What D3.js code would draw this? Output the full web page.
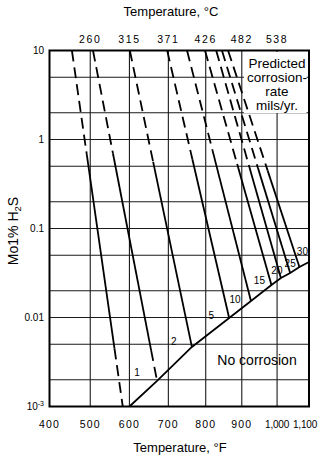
<!DOCTYPE html>
<html>
<head>
<meta charset="utf-8">
<script src="https://cdn.jsdelivr.net/npm/d3@7/dist/d3.min.js"></script>
<style>
  html, body { margin: 0; padding: 0; background: #fff; }
  svg { display: block; font-family: "Liberation Sans", Arial, Helvetica, sans-serif; }
</style>
</head>
<body>
<svg id="chart" width="320" height="459"></svg>
<script>
// Temperature axis (°F along the bottom, °C equivalents along the top)
const tempTicksF = [400, 500, 600, 700, 800, 900, 1000, 1100];
const tempTickLabelsF = ["400", "500", "600", "700", "800", "900", "1,000", "1,100"];
const tempTicksTopF = [500, 600, 700, 800, 900, 1000];
const tempTickLabelsC = ["260", "315", "371", "426", "482", "538"];
const gridTempF = [500, 600, 700, 800, 900, 1000];

// H2S concentration axis (log)
const h2sTicks = [10, 1, 0.1, 0.01, 0.001];
const h2sTickLabels = ["10", "1", "0.1", "0.01", "10-3"];
const gridH2S = [5, 2, 1, 0.5, 0.2, 0.1, 0.05, 0.02, 0.01, 0.005, 0.002];

// Iso-corrosion-rate lines (mils/yr)
const rateLabels = ["", "1", "2", "5", "10", "15", "20", "25", "30"];
const rateTopTempF = [455, 507, 601, 697, 750, 798, 829, 845, 862];   // where each line meets 10 mol%
const rateEndTempF = [583, 671, 763, 865, 926, 984, 1012, 1041, 1070];
const rateEndH2S = [0.001, 0.00194, 0.00467, 0.00986, 0.0153, 0.0232, 0.0278, 0.0316, 0.0369];
const rateSolidFromH2S = [0.67, 0.70, 0.56, 0.60, 0.76, 0.53, 0.49, 0.48, 0.45];
const rateSolidToH2S = [0.0045, 0.0043, null, null, null, null, null, null, null];

// No-corrosion boundary
const boundaryTempF = [600, 671, 763, 865, 926, 984, 1012, 1041, 1070, 1100];
const boundaryH2S = [0.001, 0.00194, 0.00467, 0.00986, 0.0153, 0.0232, 0.0278, 0.0316, 0.0369, 0.042];

const legendLines = ["Predicted", "corrosion-", "rate", "mils/yr."];

// ---- layout ----
const plot = { left: 49.5, right: 309, top: 50.5, bottom: 406.5 };
const W = plot.right - plot.left;
// the temperature axis is slightly compressed toward the hot end
const xStops = [0, 0.157, 0.308, 0.458, 0.602, 0.741, 0.877, 1];
const x = d3.scaleLinear().domain(tempTicksF).range(xStops.map(f => plot.left + f * W));
const y = d3.scaleLog().domain([0.001, 10]).range([plot.bottom, plot.top]);

const svg = d3.select("#chart");

// grid
const grid = svg.append("g").attr("stroke", "#1a1a1a").attr("stroke-width", 1.1);
grid.selectAll("line.v").data(gridTempF).join("line")
  .attr("x1", d => x(d)).attr("x2", d => x(d))
  .attr("y1", plot.top).attr("y2", plot.bottom);
grid.selectAll("line.h").data(gridH2S).join("line")
  .attr("x1", plot.left).attr("x2", plot.right)
  .attr("y1", d => y(d)).attr("y2", d => y(d));

// bottom axis labels (°F); the comma labels are set tighter and kept inside the page
svg.append("g").selectAll("text").data(tempTicksF).join("text")
  .attr("x", d => x(d)).attr("y", 428)
  .attr("text-anchor", "middle")
  .attr("font-size", (d, i) => tempTickLabelsF[i].includes(",") ? 10 : 10.5)
  .attr("letter-spacing", (d, i) => tempTickLabelsF[i].includes(",") ? -0.2 : 1.2)
  .text((d, i) => tempTickLabelsF[i])
  .each(function(d) {
    const half = this.getComputedTextLength() / 2;
    const maxX = 320 - 3 - half;
    if (x(d) > maxX) d3.select(this).attr("x", maxX);
  });

// top axis labels (°C)
svg.append("g").selectAll("text").data(tempTicksTopF).join("text")
  .attr("x", d => x(d)).attr("y", 43)
  .attr("text-anchor", "middle").attr("font-size", 10.5).attr("letter-spacing", 1.6)
  .text((d, i) => tempTickLabelsC[i]);

// left axis labels
const yl = svg.append("g").selectAll("text").data(h2sTicks).join("text")
  .attr("x", 44).attr("y", d => y(d) + 3.5)
  .attr("text-anchor", "end").attr("font-size", 10);
yl.each(function(d, i) {
  const t = d3.select(this);
  const lab = h2sTickLabels[i];
  if (lab === "10-3") {
    t.append("tspan").text("10");
    t.append("tspan").attr("font-size", 7).attr("dy", -4).text("-3");
  } else {
    t.text(lab);
  }
});

// axis titles
svg.append("text").attr("x", 171).attr("y", 16).attr("text-anchor", "middle")
  .attr("font-size", 13).text("Temperature, °C");
svg.append("text").attr("x", 180).attr("y", 452).attr("text-anchor", "middle")
  .attr("font-size", 13).text("Temperature, °F");
const yt = svg.append("text").attr("transform", "translate(18,231) rotate(-90)")
  .attr("text-anchor", "middle").attr("font-size", 14);
yt.append("tspan").text("Mo1% H");
yt.append("tspan").attr("font-size", 9.5).attr("dy", 3).text("2");
yt.append("tspan").attr("dy", -3).text("S");

// legend panel (covers the grid underneath)
svg.append("rect").attr("x", 244).attr("y", 52).attr("width", 62.5).attr("height", 61)
  .attr("fill", "#fff");
svg.append("g").selectAll("text").data(legendLines).join("text")
  .attr("x", 277).attr("y", (d, i) => 67.5 + i * 14.3)
  .attr("text-anchor", "middle").attr("font-size", 13.5).text(d => d);

// iso-rate lines: dashed where extrapolated, solid where supported
const lineGen = d3.line();
const rates = rateLabels.map((lab, i) => {
  const p0 = [x(rateTopTempF[i]), y(10)];
  const p1 = [x(rateEndTempF[i]), y(rateEndH2S[i])];
  const at = v => {
    const t = (y(v) - p0[1]) / (p1[1] - p0[1]);
    return [p0[0] + t * (p1[0] - p0[0]), y(v)];
  };
  const s0 = at(rateSolidFromH2S[i]);
  const s1 = rateSolidToH2S[i] == null ? p1 : at(rateSolidToH2S[i]);
  return { lab, p0, p1, s0, s1, hasLowDash: rateSolidToH2S[i] != null };
});
const rg = svg.append("g").attr("fill", "none").attr("stroke", "#000").attr("stroke-width", 1.8);
rates.forEach(r => {
  rg.append("path").attr("d", lineGen([r.p0, r.s0])).attr("stroke-dasharray", "11,6");
  rg.append("path").attr("d", lineGen([r.s0, r.s1]));
  if (r.hasLowDash) {
    rg.append("path").attr("d", lineGen([r.s1, r.p1])).attr("stroke-dasharray", "11,6");
  }
});

// no-corrosion boundary
svg.append("path")
  .datum(boundaryTempF.map((t, i) => [x(t), y(boundaryH2S[i])]))
  .attr("d", lineGen).attr("fill", "none").attr("stroke", "#000").attr("stroke-width", 1.8);

// rate labels, set just above-left of each line's end
const labelNudge = { "1": [-20, -8], "2": [-18, -5], "5": [-18, -3], "10": [-16, -2],
  "15": [-12, -4], "20": [-4, -7], "25": [0, -10], "30": [3, -16] };
svg.append("g").selectAll("text").data(rates.filter(r => r.lab)).join("text")
  .attr("x", r => r.p1[0] + labelNudge[r.lab][0])
  .attr("y", r => r.p1[1] + labelNudge[r.lab][1])
  .attr("dy", "0.35em").attr("text-anchor", "middle").attr("font-size", 10)
  .text(r => r.lab);

svg.append("text").attr("x", 257).attr("y", 365).attr("text-anchor", "middle")
  .attr("font-size", 14).text("No corrosion");

// frame
svg.append("rect").attr("x", plot.left).attr("y", plot.top)
  .attr("width", W).attr("height", plot.bottom - plot.top)
  .attr("fill", "none").attr("stroke", "#000").attr("stroke-width", 2);
</script>
</body>
</html>
